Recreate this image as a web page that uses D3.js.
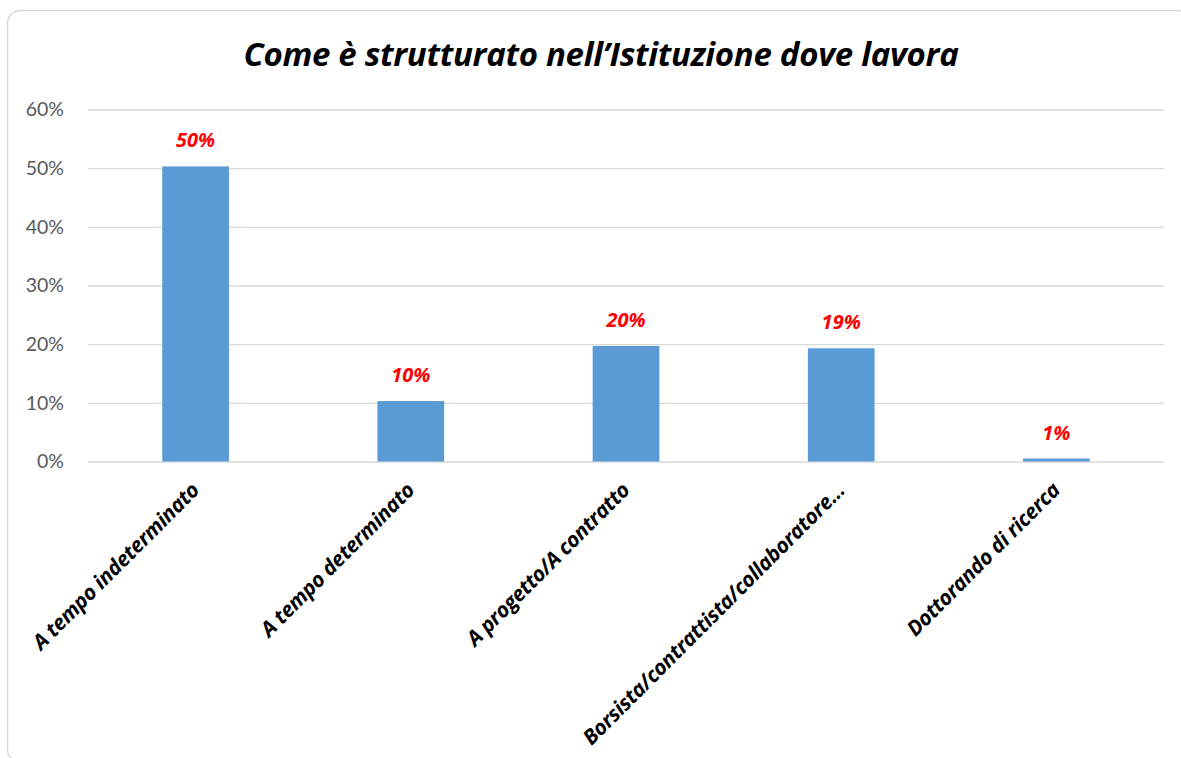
<!DOCTYPE html>
<html>
<head>
<meta charset="utf-8">
<script src="https://cdn.jsdelivr.net/npm/d3@7"></script>
<style>
  body { margin: 0; background: #ffffff; }
  svg { display: block; }
</style>
</head>
<body>
<div id="chart"></div>
<script>
// chart data
var categories = ["A tempo indeterminato", "A tempo determinato", "A progetto/A contratto",
                  "Borsista/contrattista/collaboratore\u2026", "Dottorando di ricerca"];
var values = [0.503, 0.103, 0.197, 0.193, 0.005];
var labels = ["50%", "10%", "20%", "19%", "1%"];
var yTicks = [0, 0.1, 0.2, 0.3, 0.4, 0.5, 0.6];
var title = "Come \u00e8 strutturato nell\u2019Istituzione dove lavora";

// drawing params
const width = 1181,
    height = 758,
    plotLeft = 88,
    plotRight = 1164,
    plotTop = 109.5,
    plotBottom = 461.5,
    barColor = "#5b9bd5",
    gridColor = "#d9d9d9",
    tickFont = "Lato, 'Open Sans', sans-serif",
    font = "'Open Sans', Lato, sans-serif";

var svg = d3.select("#chart").append("svg")
    .attr("width", width)
    .attr("height", height);

// card with rounded border
svg.append("rect")
    .attr("x", 7.5)
    .attr("y", 10.5)
    .attr("width", 1182)
    .attr("height", 752)
    .attr("rx", 13)
    .attr("fill", "#ffffff")
    .attr("stroke", gridColor)
    .attr("stroke-width", 1.5);

// title
svg.append("text")
    .attr("x", 601)
    .attr("y", 66)
    .attr("text-anchor", "middle")
    .style("font-family", font)
    .style("font-size", "33px")
    .style("font-weight", "bold")
    .style("font-style", "italic")
    .style("letter-spacing", "-0.3px")
    .style("fill", "#000000")
    .text(title);

// scales
var x = d3.scaleBand()
    .domain(categories)
    .range([plotLeft, plotRight])
    .paddingInner(0.69)
    .paddingOuter(0.345);

var y = d3.scaleLinear()
    .domain([0, 0.6])
    .range([plotBottom, plotTop]);

// y axis: gridlines and labels
var yAxis = d3.axisLeft(y)
    .tickValues(yTicks)
    .tickFormat(d3.format(".0%"))
    .tickSize(-(plotRight - plotLeft))
    .tickPadding(24);

var gy = svg.append("g")
    .attr("transform", "translate(" + plotLeft + ",0)")
    .call(yAxis);
gy.select(".domain").remove();
gy.selectAll(".tick line")
    .attr("stroke", gridColor)
    .attr("stroke-width", 1.3);
gy.selectAll(".tick text")
    .style("font-family", tickFont)
    .style("font-size", "19.5px")
    .style("fill", "#595959");

// bars
svg.append("g")
    .selectAll("rect")
    .data(values)
    .enter().append("rect")
    .attr("x", function(d, i) { return x(categories[i]); })
    .attr("y", function(d) { return y(d); })
    .attr("width", x.bandwidth())
    .attr("height", function(d) { return y(0) - y(d); })
    .attr("fill", barColor);

// value labels
svg.append("g")
    .selectAll("text")
    .data(values)
    .enter().append("text")
    .attr("x", function(d, i) { return x(categories[i]) + x.bandwidth() / 2; })
    .attr("y", function(d) { return y(d) - 19; })
    .attr("text-anchor", "middle")
    .style("font-family", font)
    .style("font-size", "20px")
    .style("font-weight", "bold")
    .style("font-style", "italic")
    .style("fill", "#ff0000")
    .text(function(d, i) { return labels[i]; });

// x axis labels, rotated
var xAxis = d3.axisBottom(x)
    .tickSize(0)
    .tickPadding(0);

var gx = svg.append("g")
    .attr("transform", "translate(0," + plotBottom + ")")
    .call(xAxis);
gx.select(".domain").remove();
gx.selectAll(".tick text")
    .attr("x", 0)
    .attr("y", 0)
    .attr("dy", null)
    .attr("text-anchor", "end")
    .attr("transform", "translate(5,30) rotate(-45)")
    .style("font-family", font)
    .style("font-size", "21px")
    .style("font-weight", "bold")
    .style("font-style", "italic")
    .style("letter-spacing", "-0.3px")
    .style("fill", "#000000");
</script>
</body>
</html>
